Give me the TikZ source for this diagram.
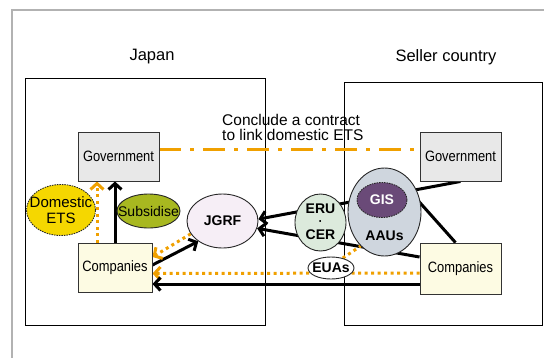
\documentclass[tikz,border=0pt]{standalone}
\usepackage{fontspec}
\setmainfont{Liberation Sans}
\newfontfamily\narrowfont[FakeStretch=0.86]{Liberation Sans}
\usetikzlibrary{arrows.meta,shapes.geometric,calc}
\pgfdeclarelayer{back}
\pgfdeclarelayer{links}
\pgfsetlayers{back,links,main}
\definecolor{ora}{RGB}{240,160,0}
\definecolor{govfill}{RGB}{232,232,232}
\definecolor{compfill}{RGB}{253,251,227}
\definecolor{etsfill}{RGB}{245,215,0}
\definecolor{subfill}{RGB}{168,184,32}
\definecolor{jgrffill}{RGB}{246,238,246}
\definecolor{erufill}{RGB}{220,234,220}
\definecolor{aaufill}{RGB}{207,214,222}
\definecolor{gisfill}{RGB}{106,74,120}
\definecolor{framegray}{RGB}{178,178,178}
\tikzset{
  boxnode/.style={draw=black!80, line width=0.9pt, minimum width=81pt, minimum height=49pt, inner sep=0pt},
  ell/.style={ellipse, draw=black!85, line width=0.9pt, inner sep=0pt},
  blk/.style={draw=black, line width=3pt},
  orl/.style={draw=ora, line width=3pt},
  dots/.style={dash pattern=on 3pt off 3.5pt},
  dashdot/.style={dash pattern=on 22pt off 9pt on 4pt off 9pt},
  tip/.style={-{Straight Barb[length=6pt,width=13pt]}},
  lbl/.style={font=\fontsize{16.5}{18}\selectfont},
  boxfont/.style={font=\narrowfont\fontsize{15}{17}\selectfont},
  bold14/.style={font=\bfseries\fontsize{14}{16}\selectfont}
}
\begin{document}
\begin{tikzpicture}[x=1pt,y=-1pt]
\useasboundingbox (0,0) rectangle (544,357);
\begin{pgfonlayer}{back}
\draw[framegray, line width=2pt] (546,10) -- (12,10) -- (12,359);
\draw[black, line width=1pt] (25,78) rectangle (265,325);
\draw[black, line width=1pt] (344,82) rectangle (542,325);
\end{pgfonlayer}

\node[lbl] (japan) at (152,57) {Japan};
\node[lbl] (seller) at (446,57) {Seller country};

\node[boxnode, fill=govfill, boxfont] (JGov) at (118.5,156.5) {Government};
\node[boxnode, fill=compfill, minimum width=74pt, boxfont] (JComp) at (115,267.5) {Companies};
\node[boxnode, fill=govfill, boxfont] (SGov) at (460.5,156.5) {Government};
\node[boxnode, fill=compfill, minimum height=51pt, boxfont] (SComp) at (460.5,268.5) {Companies};

\node[ell, fill=etsfill, dash pattern=on 1.5pt off 1pt, minimum width=69pt, minimum height=51pt,
  label={[align=center, font=\fontsize{15}{16}\selectfont]center:Domestic\\ETS}] (DETS) at (61,210) {};
\node[ell, fill=subfill, minimum width=63pt, minimum height=34pt,
  label={[font=\fontsize{14}{16}\selectfont]center:Subsidise}] (Sub) at (148.5,211) {};
\node[ell, fill=jgrffill, minimum width=71pt, minimum height=54pt, bold14] (JGRF) at (222.5,221) {JGRF};
\node[ell, fill=erufill, minimum width=51pt, minimum height=57pt] (ERU) at (320.5,222.5) {};
\node[bold14, inner sep=0pt] (erutext) at (320.5,208.5) {ERU};
\node[bold14, inner sep=0pt, anchor=base, font=\bfseries\fontsize{12}{14}\selectfont] (dottext) at (320.5,225.5) {·};
\node[bold14, inner sep=0pt] (certext) at (320.5,235) {CER};
\node[ell, fill=aaufill, minimum width=73pt, minimum height=88pt] (AAUs) at (384.5,212) {};
\node[ell, fill=gisfill, dash pattern=on 1.5pt off 1pt, minimum width=50pt, minimum height=35pt, text=white, bold14] (GIS) at (382,200) {GIS};
\node[bold14] (AAUtext) at (384.5,236) {AAUs};
\node[ell, fill=white, minimum width=46pt, minimum height=22pt,
  label={[font=\bfseries\fontsize{14}{16}\selectfont]center:EUAs}] (EUAs) at (331,268) {};

\node[align=left, anchor=north west, font=\fontsize{15.5}{15}\selectfont, inner sep=0pt] (contract) at (222,114) {Conclude a contract\\to link domestic ETS};

\coordinate (aau) at (410,191.5);
\coordinate (c1) at ($(JComp.north)+(-18,0)$);

\begin{pgfonlayer}{links}
\draw[orl, dashdot] ($(JGov.east)+(0,-7.5)$) -- ($(SGov.west)+(0,-7.5)$);
\draw[blk, tip] (SGov.south) -- (JGRF.3);
\draw[blk, tip] ($(SComp.west)+(0,-11.5)$) -- (JGRF.-12);
\draw[blk] ($(SComp.north)+(-5,0)$) -- (aau);
\draw[blk, tip] ($(JComp.east)+(0,-2.5)$) -- (JGRF.220);
\draw[orl, dots, tip] (JGRF.202) -- ($(JComp.east)+(0,-10.5)$);
\draw[orl, dots, tip] ($(SComp.west)+(0,4.5)$) -- ($(JComp.east)+(0,6)$);
\draw[blk, tip] ($(SComp.west)+(0,15.5)$) -- ($(JComp.east)+(0,16.5)$);
\draw[orl, dots, tip] (c1) -- (c1 |- JGov.south);
\draw[blk, tip] (JComp.north) -- (JComp.north |- JGov.south);
\draw[orl, dots] (EUAs.40) -- (AAUs.235);
\end{pgfonlayer}
\end{tikzpicture}
\end{document}
